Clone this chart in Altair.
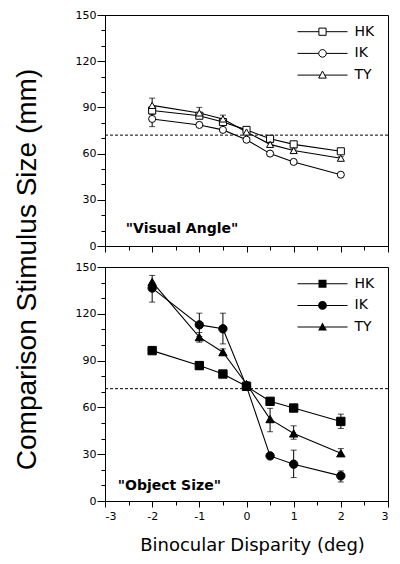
import altair as alt
import pandas as pd

disparity = [-2, -1, -0.5, 0, 0.5, 1, 2]
subjects = ["HK", "IK", "TY"]

# "Visual Angle" panel (open markers)
va_hk = [88.0, 84.6, 80.5, 75.4, 69.6, 66.0, 61.5]
va_ik = [82.5, 78.6, 75.4, 69.0, 60.0, 54.6, 46.3]
va_ty = [91.3, 86.4, 82.5, 74.0, 66.0, 62.0, 57.0]
va_hk_lo = [85.5, 83.5, 79.5, 74.4, 68.6, 65.0, 60.5]
va_hk_hi = [90.5, 85.8, 81.5, 76.4, 70.6, 67.0, 62.5]
va_ik_lo = [77.5, 77.6, 74.4, 68.0, 59.0, 53.6, 45.3]
va_ik_hi = [86.0, 79.6, 76.4, 70.0, 61.0, 55.6, 47.3]
va_ty_lo = [87.0, 83.0, 80.0, 73.0, 65.0, 61.0, 56.0]
va_ty_hi = [96.0, 90.0, 85.0, 75.0, 67.0, 63.0, 58.0]

# "Object Size" panel (filled markers)
os_hk = [96.4, 86.8, 81.4, 73.5, 63.9, 59.6, 51.0]
os_ik = [136.5, 112.9, 110.4, 73.5, 28.9, 23.6, 16.1]
os_ty = [140.4, 105.0, 95.4, 75.0, 52.5, 43.3, 30.6]
os_hk_lo = [95.0, 84.5, 80.0, 72.0, 62.5, 58.5, 46.5]
os_hk_hi = [97.5, 89.0, 82.5, 75.0, 65.5, 60.5, 55.7]
os_ik_lo = [127.5, 105.4, 100.7, 72.0, 27.5, 15.0, 12.2]
os_ik_hi = [140.0, 120.4, 120.4, 75.0, 30.0, 32.6, 19.3]
os_ty_lo = [137.0, 101.8, 93.5, 73.5, 44.4, 39.6, 28.5]
os_ty_hi = [144.6, 108.0, 97.5, 76.5, 59.4, 48.2, 33.6]

reference_size = [72]

x_major = [-3, -2, -1, 0, 1, 2, 3]
x_minor = [-2.5, -1.5, -0.5, 0.5, 1.5, 2.5]
y_major = [0, 30, 60, 90, 120, 150]
y_minor = [10, 20, 40, 50, 70, 80, 100, 110, 130, 140]

va_label = ['"Visual Angle"']
va_label_x = [-2.56]
va_label_y = [8.4]
os_label = ['"Object Size"']
os_label_x = [-2.73]
os_label_y = [7.1]

marker_shapes = ["square", "circle", "triangle-up"]
# legend keys: line segment with the marker in the middle
open_legend_paths = [
    "M-6.25,0H-0.9M0.9,0H6.25M-0.9,-0.9H0.9V0.9H-0.9Z",
    "M-6.25,0H-0.95M0.95,0H6.25M0.95,0A0.95,0.95,0,1,1,-0.95,0A0.95,0.95,0,1,1,0.95,0Z",
    "M-6.25,0H-0.55M0.55,0H6.25M0,-1L0.95,0.75H-0.95Z",
]
filled_legend_paths = [
    "M-6.25,-0.13H-1V0.13H-6.25ZM1,-0.13H6.25V0.13H1ZM-1,-1H1V1H-1Z",
    "M-6.25,-0.13H-1V0.13H-6.25ZM1,-0.13H6.25V0.13H1ZM1.1,0A1.1,1.1,0,1,1,-1.1,0A1.1,1.1,0,1,1,1.1,0Z",
    "M-6.25,-0.13H-0.6V0.13H-6.25ZM0.6,-0.13H6.25V0.13H0.6ZM0,-1.15L1.1,0.85H-1.1Z",
]


def long_df(vals, los, his):
    rows = []
    for s, v, lo, hi in zip(subjects, vals, los, his):
        for d, a, b, c in zip(disparity, v, lo, hi):
            rows.append({"subject": s, "disparity": d, "size": a, "lo": b, "hi": c})
    return pd.DataFrame(rows)


va_df = long_df([va_hk, va_ik, va_ty], [va_hk_lo, va_ik_lo, va_ty_lo], [va_hk_hi, va_ik_hi, va_ty_hi])
os_df = long_df([os_hk, os_ik, os_ty], [os_hk_lo, os_ik_lo, os_ty_lo], [os_hk_hi, os_ik_hi, os_ty_hi])
ref_df = pd.DataFrame({"ref": reference_size})

XS = alt.Scale(domain=[-3, 3], nice=False, zero=False)
YS = alt.Scale(domain=[0, 150], nice=False, zero=False)
PANEL_W = 283


def panel(df, ann_df, filled, msize, bottom, height):
    fill = "black" if filled else "white"
    base = alt.Chart(df)

    if bottom:
        main_x_axis = alt.Axis(
            orient="bottom", values=x_major, tickSize=6, labelPadding=3,
            labelExpr="'' + datum.value",
            title="Binocular Disparity (deg)", titleFont="DejaVu Sans", titleFontSize=18,
            titleFontWeight="normal", titleX=147, titleY=49, titleBaseline="alphabetic",
            titleAlign="center",
        )
        main_y_axis = alt.Axis(orient="left", values=y_major, tickSize=8, labelPadding=1, title=None)
    else:
        main_x_axis = alt.Axis(orient="bottom", values=x_major, tickSize=6, labels=False, title=None)
        main_y_axis = alt.Axis(
            orient="left", values=y_major, tickSize=8, labelPadding=1,
            title="Comparison Stimulus Size (mm)", titleFont="Liberation Sans", titleFontSize=28,
            titleFontWeight="normal", titleX=-70, titleY=254, titleAngle=-90,
            titleBaseline="alphabetic", titleAlign="center",
        )
    minor_x_axis = alt.Axis(orient="bottom", values=x_minor, tickSize=4, labels=False, domain=False, title=None)
    minor_y_axis = alt.Axis(orient="left", values=y_minor, tickSize=4, labels=False, domain=False, title=None)

    ref = alt.Chart(ref_df).mark_rule(strokeDash=[3, 2], color="black", strokeWidth=1).encode(
        y=alt.Y("ref:Q", scale=YS, axis=None)
    )
    lines = base.mark_line(color="black", strokeWidth=1.1).encode(
        x=alt.X("disparity:Q", scale=XS, axis=main_x_axis),
        y=alt.Y("size:Q", scale=YS, axis=main_y_axis),
        detail="subject:N",
    )
    err = base.mark_rule(color="black", strokeWidth=1).encode(
        x=alt.X("disparity:Q", scale=XS, axis=minor_x_axis),
        y=alt.Y("lo:Q", scale=YS, axis=minor_y_axis),
        y2="hi:Q",
    )
    cap_lo = base.mark_tick(orient="horizontal", size=6, thickness=1, color="black").encode(
        x=alt.X("disparity:Q", scale=XS, axis=None),
        y=alt.Y("lo:Q", scale=YS, axis=None),
    )
    cap_hi = base.mark_tick(orient="horizontal", size=6, thickness=1, color="black").encode(
        x=alt.X("disparity:Q", scale=XS, axis=None),
        y=alt.Y("hi:Q", scale=YS, axis=None),
    )
    points = base.mark_point(filled=True, fill=fill, stroke="black", strokeWidth=1, size=msize, opacity=1).encode(
        x=alt.X("disparity:Q", scale=XS, axis=None),
        y=alt.Y("size:Q", scale=YS, axis=None),
        shape=alt.Shape("subject:N", scale=alt.Scale(domain=subjects, range=marker_shapes), legend=None),
    )
    legend_layer = base.transform_filter("false").mark_point(
        filled=filled, color="black", strokeWidth=1, opacity=1
    ).encode(
        x=alt.X("disparity:Q", scale=XS, axis=None),
        y=alt.Y("size:Q", scale=YS, axis=None),
        shape=alt.Shape(
            "subject:N",
            scale=alt.Scale(domain=subjects, range=filled_legend_paths if filled else open_legend_paths),
            legend=alt.Legend(
                title=None, orient="none", legendX=210.5, legendY=9.7, symbolSize=64,
                symbolStrokeWidth=1, labelFont="DejaVu Sans",
                labelFontSize=14, labelColor="black", labelOffset=25, rowPadding=7.7, padding=0,
            ),
        ),
    )
    ann = alt.Chart(ann_df).mark_text(
        align="left", baseline="alphabetic", font="DejaVu Sans", fontSize=14, fontWeight="bold", color="black"
    ).encode(
        x=alt.X("x:Q", scale=XS, axis=None),
        y=alt.Y("y:Q", scale=YS, axis=None),
        text="label:N",
    )
    return (
        alt.layer(ref, lines, err, cap_lo, cap_hi, points, ann, legend_layer)
        .resolve_scale(shape="independent")
        .resolve_axis(x="independent", y="independent")
        .properties(width=PANEL_W, height=height)
    )


va_ann = pd.DataFrame({"label": va_label, "x": va_label_x, "y": va_label_y})
os_ann = pd.DataFrame({"label": os_label, "x": os_label_x, "y": os_label_y})

top = panel(va_df, va_ann, False, 50, False, 231)
bottom = panel(os_df, os_ann, True, 70, True, 234)

chart = (
    alt.vconcat(top, bottom, spacing=21, bounds="flush")
    .properties(padding={"left": 4, "top": 0, "right": 0, "bottom": 0})
    .configure_view(stroke="black", strokeWidth=1)
    .configure_axis(
        grid=False, domainColor="black", tickColor="black", labelColor="black",
        labelFont="DejaVu Sans", labelFontSize=11, titleColor="black", domainWidth=1, tickWidth=1,
    )
)

chart.save("out.html", embed_options={"renderer": "svg", "actions": False})
